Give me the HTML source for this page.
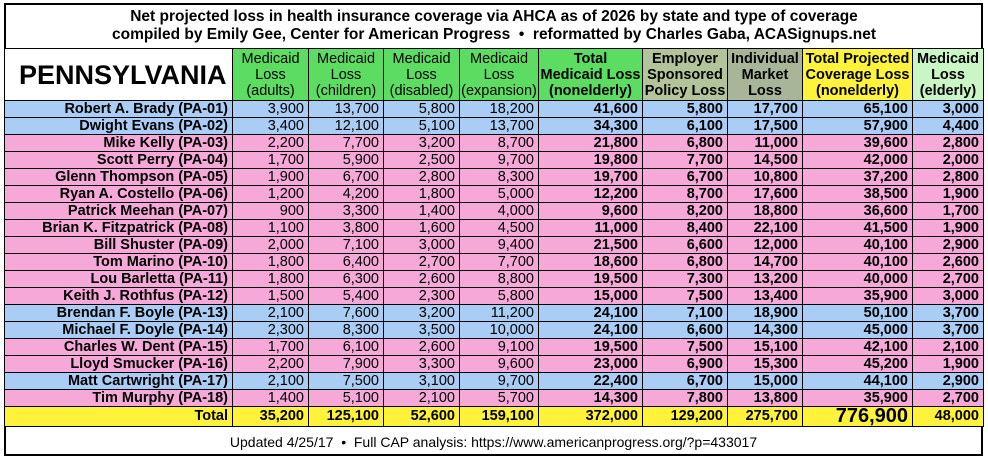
<!DOCTYPE html>
<html><head><meta charset="utf-8"><style>
body{margin:0;width:988px;height:460px;background:#fff;font-family:"Liberation Sans",sans-serif;position:relative;overflow:hidden}
#wrap{position:absolute;left:4px;top:3px;width:979px;height:453px;border:2px solid #000;box-sizing:border-box}
.t{position:absolute;left:0;width:100%;text-align:center;font-weight:bold;font-size:15.5px;color:#000}
table{position:absolute;left:4px;top:48px;border-collapse:collapse;table-layout:fixed;width:979px}
td{border:1.5px solid #000;padding:0 4px;font-size:14.5px;text-align:right;height:16px;line-height:15px;white-space:nowrap;overflow:hidden}
.h td{height:51px;text-align:center;line-height:16px;font-size:14.5px;padding:0}
.b{font-weight:bold}
.bl td{background:#a9cdf4}.pk td{background:#f6a9d8}
.tot td{background:#fff23a;font-weight:bold;height:19px}
td.n{font-weight:bold}
.r{display:flex;justify-content:flex-end;width:100%}
#foot{position:absolute;left:4px;top:429px;width:979px;text-align:center;font-size:14px;line-height:27px}
</style></head><body>
<div id="wrap"></div>
<div class="t" style="top:8px">Net projected loss in health insurance coverage via AHCA as of 2026 by state and type of coverage</div>
<div class="t" style="top:26px">compiled by Emily Gee, Center for American Progress &nbsp;•&nbsp; reformatted by Charles Gaba, ACASignups.net</div>
<table>
<colgroup><col style="width:228px"><col style="width:76px"><col style="width:75px"><col style="width:76px"><col style="width:79px"><col style="width:104px"><col style="width:85px"><col style="width:75px"><col style="width:110px"><col style="width:71px"></colgroup>
<tr class="h"><td style="font-size:27px;font-weight:bold;text-align:left;padding-left:14px;background:#fff">PENNSYLVANIA</td>
<td style="background:#5ddc62">Medicaid<br>Loss<br>(adults)</td><td style="background:#5ddc62">Medicaid<br>Loss<br>(children)</td><td style="background:#5ddc62">Medicaid<br>Loss<br>(disabled)</td><td style="background:#5ddc62">Medicaid<br>Loss<br>(expansion)</td>
<td class="b" style="background:#5ddc62">Total<br>Medicaid Loss<br>(nonelderly)</td><td class="b" style="background:#b3c49a">Employer<br>Sponsored<br>Policy Loss</td><td class="b" style="background:#a9b598">Individual<br>Market<br>Loss</td><td class="b" style="background:#fff23a">Total Projected<br>Coverage Loss<br>(nonelderly)</td><td class="b" style="background:#c9f6c4">Medicaid<br>Loss<br>(elderly)</td></tr>
<tr class="bl"><td class="n"><div class="r">Robert A. Brady (PA-01)</div></td><td>3,900</td><td>13,700</td><td>5,800</td><td>18,200</td><td class="n">41,600</td><td class="n">5,800</td><td class="n">17,700</td><td class="n">65,100</td><td class="n">3,000</td></tr>
<tr class="bl"><td class="n"><div class="r">Dwight Evans (PA-02)</div></td><td>3,400</td><td>12,100</td><td>5,100</td><td>13,700</td><td class="n">34,300</td><td class="n">6,100</td><td class="n">17,500</td><td class="n">57,900</td><td class="n">4,400</td></tr>
<tr class="pk"><td class="n"><div class="r">Mike Kelly (PA-03)</div></td><td>2,200</td><td>7,700</td><td>3,200</td><td>8,700</td><td class="n">21,800</td><td class="n">6,800</td><td class="n">11,000</td><td class="n">39,600</td><td class="n">2,800</td></tr>
<tr class="pk"><td class="n"><div class="r">Scott Perry (PA-04)</div></td><td>1,700</td><td>5,900</td><td>2,500</td><td>9,700</td><td class="n">19,800</td><td class="n">7,700</td><td class="n">14,500</td><td class="n">42,000</td><td class="n">2,000</td></tr>
<tr class="pk"><td class="n"><div class="r">Glenn Thompson (PA-05)</div></td><td>1,900</td><td>6,700</td><td>2,800</td><td>8,300</td><td class="n">19,700</td><td class="n">6,700</td><td class="n">10,800</td><td class="n">37,200</td><td class="n">2,800</td></tr>
<tr class="pk"><td class="n"><div class="r">Ryan A. Costello (PA-06)</div></td><td>1,200</td><td>4,200</td><td>1,800</td><td>5,000</td><td class="n">12,200</td><td class="n">8,700</td><td class="n">17,600</td><td class="n">38,500</td><td class="n">1,900</td></tr>
<tr class="pk"><td class="n"><div class="r">Patrick Meehan (PA-07)</div></td><td>900</td><td>3,300</td><td>1,400</td><td>4,000</td><td class="n">9,600</td><td class="n">8,200</td><td class="n">18,800</td><td class="n">36,600</td><td class="n">1,700</td></tr>
<tr class="pk"><td class="n"><div class="r">Brian K. Fitzpatrick (PA-08)</div></td><td>1,100</td><td>3,800</td><td>1,600</td><td>4,500</td><td class="n">11,000</td><td class="n">8,400</td><td class="n">22,100</td><td class="n">41,500</td><td class="n">1,900</td></tr>
<tr class="pk"><td class="n"><div class="r">Bill Shuster (PA-09)</div></td><td>2,000</td><td>7,100</td><td>3,000</td><td>9,400</td><td class="n">21,500</td><td class="n">6,600</td><td class="n">12,000</td><td class="n">40,100</td><td class="n">2,900</td></tr>
<tr class="pk"><td class="n"><div class="r">Tom Marino (PA-10)</div></td><td>1,800</td><td>6,400</td><td>2,700</td><td>7,700</td><td class="n">18,600</td><td class="n">6,800</td><td class="n">14,700</td><td class="n">40,100</td><td class="n">2,600</td></tr>
<tr class="pk"><td class="n"><div class="r">Lou Barletta (PA-11)</div></td><td>1,800</td><td>6,300</td><td>2,600</td><td>8,800</td><td class="n">19,500</td><td class="n">7,300</td><td class="n">13,200</td><td class="n">40,000</td><td class="n">2,700</td></tr>
<tr class="pk"><td class="n"><div class="r">Keith J. Rothfus (PA-12)</div></td><td>1,500</td><td>5,400</td><td>2,300</td><td>5,800</td><td class="n">15,000</td><td class="n">7,500</td><td class="n">13,400</td><td class="n">35,900</td><td class="n">3,000</td></tr>
<tr class="bl"><td class="n"><div class="r">Brendan F. Boyle (PA-13)</div></td><td>2,100</td><td>7,600</td><td>3,200</td><td>11,200</td><td class="n">24,100</td><td class="n">7,100</td><td class="n">18,900</td><td class="n">50,100</td><td class="n">3,700</td></tr>
<tr class="bl"><td class="n"><div class="r">Michael F. Doyle (PA-14)</div></td><td>2,300</td><td>8,300</td><td>3,500</td><td>10,000</td><td class="n">24,100</td><td class="n">6,600</td><td class="n">14,300</td><td class="n">45,000</td><td class="n">3,700</td></tr>
<tr class="pk"><td class="n"><div class="r">Charles W. Dent (PA-15)</div></td><td>1,700</td><td>6,100</td><td>2,600</td><td>9,100</td><td class="n">19,500</td><td class="n">7,500</td><td class="n">15,100</td><td class="n">42,100</td><td class="n">2,100</td></tr>
<tr class="pk"><td class="n"><div class="r">Lloyd Smucker (PA-16)</div></td><td>2,200</td><td>7,900</td><td>3,300</td><td>9,600</td><td class="n">23,000</td><td class="n">6,900</td><td class="n">15,300</td><td class="n">45,200</td><td class="n">1,900</td></tr>
<tr class="bl"><td class="n"><div class="r">Matt Cartwright (PA-17)</div></td><td>2,100</td><td>7,500</td><td>3,100</td><td>9,700</td><td class="n">22,400</td><td class="n">6,700</td><td class="n">15,000</td><td class="n">44,100</td><td class="n">2,900</td></tr>
<tr class="pk"><td class="n"><div class="r">Tim Murphy (PA-18)</div></td><td>1,400</td><td>5,100</td><td>2,100</td><td>5,700</td><td class="n">14,300</td><td class="n">7,800</td><td class="n">13,800</td><td class="n">35,900</td><td class="n">2,700</td></tr>
<tr class="tot"><td><div class="r">Total</div></td><td>35,200</td><td>125,100</td><td>52,600</td><td>159,100</td><td>372,000</td><td>129,200</td><td>275,700</td><td style="font-size:20px">776,900</td><td>48,000</td></tr>
</table>
<div id="foot">Updated 4/25/17 &nbsp;•&nbsp; Full CAP analysis: https://www.americanprogress.org/?p=433017</div>
</body></html>
